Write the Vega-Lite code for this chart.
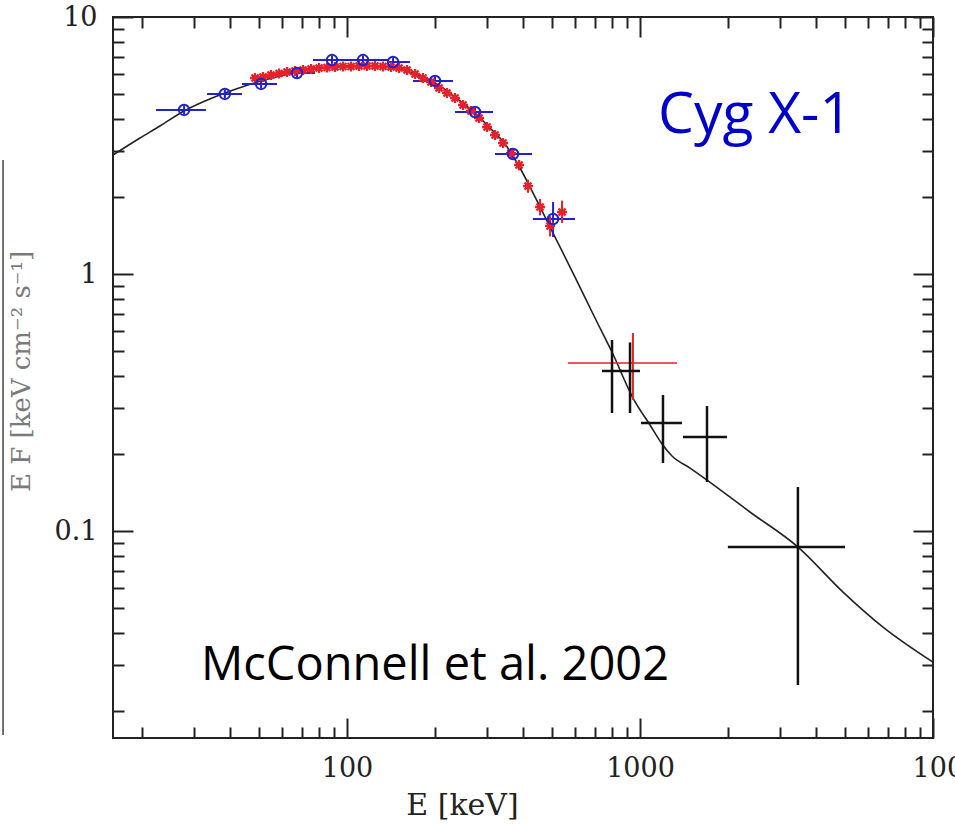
{
  "$schema": "https://vega.github.io/schema/vega-lite/v6.json",
  "width": 820,
  "height": 721,
  "autosize": {"type": "none"},
  "padding": {"left": 113, "top": 17, "right": 22, "bottom": 86},
  "background": "white",
  "config": {
    "view": {"stroke": "#222", "strokeWidth": 2},
    "axis": {
      "grid": false,
      "domain": false,
      "tickColor": "#222",
      "tickWidth": 2,
      "labelFont": "DejaVu Serif",
      "labelFontSize": 27,
      "labelColor": "#222",
      "titleFont": "DejaVu Serif",
      "titleFontSize": 30,
      "titleFontWeight": "normal",
      "titleColor": "#222"
    }
  },
  "datasets": {
    "model": [
      {"E": 15.9, "F": 2.904}, {"E": 19.66, "F": 3.382}, {"E": 23.0, "F": 3.766}, {"E": 27.78, "F": 4.308},
      {"E": 32.76, "F": 4.712}, {"E": 38.34, "F": 5.062}, {"E": 44.86, "F": 5.39}, {"E": 50.87, "F": 5.636},
      {"E": 59.07, "F": 5.894}, {"E": 69.12, "F": 6.136}, {"E": 80.9, "F": 6.333}, {"E": 94.65, "F": 6.446},
      {"E": 110.8, "F": 6.476}, {"E": 129.6, "F": 6.418}, {"E": 151.7, "F": 6.247}, {"E": 177.5, "F": 5.894},
      {"E": 207.7, "F": 5.39}, {"E": 243.0, "F": 4.712}, {"E": 273.5, "F": 4.231}, {"E": 307.6, "F": 3.7},
      {"E": 346.2, "F": 3.205}, {"E": 389.5, "F": 2.585}, {"E": 438.2, "F": 1.994}, {"E": 512.8, "F": 1.393},
      {"E": 600.1, "F": 0.9734}, {"E": 702.1, "F": 0.6743}, {"E": 802.6, "F": 0.4972}, {"E": 946.5, "F": 0.3293},
      {"E": 1082, "F": 0.2585}, {"E": 1189, "F": 0.2181}, {"E": 1286, "F": 0.1958}, {"E": 1482, "F": 0.1758},
      {"E": 1693, "F": 0.1579}, {"E": 2373, "F": 0.1186}, {"E": 3462, "F": 0.0866}, {"E": 4931, "F": 0.0579},
      {"E": 6751, "F": 0.0423}, {"E": 10000, "F": 0.0309}
    ],
    "blue": [
      {"E": 27.8, "F": 4.35, "Elo": 22.3, "Ehi": 33.0, "Flo": 4.18, "Fhi": 4.52},
      {"E": 38.3, "F": 5.02, "Elo": 33.3, "Ehi": 43.8, "Flo": 4.82, "Fhi": 5.22},
      {"E": 50.9, "F": 5.49, "Elo": 43.8, "Ehi": 57.7, "Flo": 5.27, "Fhi": 5.71},
      {"E": 67.5, "F": 6.05, "Elo": 57.7, "Ehi": 77.8, "Flo": 5.81, "Fhi": 6.29},
      {"E": 88.9, "F": 6.8, "Elo": 76.6, "Ehi": 102.4, "Flo": 6.53, "Fhi": 7.07},
      {"E": 113.4, "F": 6.8, "Elo": 102.4, "Ehi": 138.8, "Flo": 6.53, "Fhi": 7.07},
      {"E": 143.6, "F": 6.68, "Elo": 138.8, "Ehi": 164, "Flo": 6.41, "Fhi": 6.95},
      {"E": 199.7, "F": 5.64, "Elo": 168, "Ehi": 230, "Flo": 5.41, "Fhi": 5.87},
      {"E": 273.5, "F": 4.27, "Elo": 233.7, "Ehi": 315, "Flo": 4.1, "Fhi": 4.44},
      {"E": 368.7, "F": 2.93, "Elo": 320, "Ehi": 428, "Flo": 2.81, "Fhi": 3.05},
      {"E": 505, "F": 1.637, "Elo": 431, "Ehi": 600, "Flo": 1.393, "Fhi": 1.906}
    ],
    "red": [
      {"E": 48.53, "F": 5.789, "Flo": 5.62, "Fhi": 5.96}, {"E": 51.69, "F": 5.842, "Flo": 5.67, "Fhi": 6.02},
      {"E": 55.03, "F": 5.947, "Flo": 5.77, "Fhi": 6.13}, {"E": 58.61, "F": 6.028, "Flo": 5.85, "Fhi": 6.21},
      {"E": 62.41, "F": 6.109, "Flo": 5.93, "Fhi": 6.29}, {"E": 66.45, "F": 6.165, "Flo": 5.98, "Fhi": 6.35},
      {"E": 70.77, "F": 6.22, "Flo": 6.03, "Fhi": 6.41}, {"E": 75.39, "F": 6.276, "Flo": 6.09, "Fhi": 6.46},
      {"E": 80.27, "F": 6.333, "Flo": 6.14, "Fhi": 6.52}, {"E": 85.46, "F": 6.361, "Flo": 6.17, "Fhi": 6.55},
      {"E": 91.01, "F": 6.389, "Flo": 6.2, "Fhi": 6.58}, {"E": 96.92, "F": 6.418, "Flo": 6.23, "Fhi": 6.61},
      {"E": 103.2, "F": 6.418, "Flo": 6.23, "Fhi": 6.61}, {"E": 109.9, "F": 6.446, "Flo": 6.25, "Fhi": 6.64},
      {"E": 117.0, "F": 6.446, "Flo": 6.25, "Fhi": 6.64}, {"E": 124.6, "F": 6.446, "Flo": 6.25, "Fhi": 6.64},
      {"E": 132.7, "F": 6.418, "Flo": 6.23, "Fhi": 6.61}, {"E": 141.3, "F": 6.389, "Flo": 6.2, "Fhi": 6.58},
      {"E": 150.5, "F": 6.333, "Flo": 6.14, "Fhi": 6.52}, {"E": 160.3, "F": 6.22, "Flo": 6.03, "Fhi": 6.41},
      {"E": 170.7, "F": 6.0, "Flo": 5.82, "Fhi": 6.18}, {"E": 181.7, "F": 5.789, "Flo": 5.62, "Fhi": 5.96},
      {"E": 193.5, "F": 5.587, "Flo": 5.42, "Fhi": 5.75}, {"E": 206.1, "F": 5.293, "Flo": 5.13, "Fhi": 5.45},
      {"E": 219.5, "F": 5.062, "Flo": 4.91, "Fhi": 5.21}, {"E": 233.7, "F": 4.84, "Flo": 4.69, "Fhi": 4.99},
      {"E": 248.9, "F": 4.546, "Flo": 4.41, "Fhi": 4.68}, {"E": 265.0, "F": 4.308, "Flo": 4.18, "Fhi": 4.44},
      {"E": 282.2, "F": 4.046, "Flo": 3.92, "Fhi": 4.17}, {"E": 300.6, "F": 3.733, "Flo": 3.61, "Fhi": 3.86},
      {"E": 320.1, "F": 3.474, "Flo": 3.36, "Fhi": 3.59}, {"E": 340.8, "F": 3.234, "Flo": 3.12, "Fhi": 3.35},
      {"E": 362.9, "F": 2.956, "Flo": 2.84, "Fhi": 3.07}, {"E": 386.5, "F": 2.656, "Flo": 2.53, "Fhi": 2.78},
      {"E": 414.8, "F": 2.199, "Flo": 2.07, "Fhi": 2.33}, {"E": 455.9, "F": 1.823, "Flo": 1.69, "Fhi": 1.96},
      {"E": 493.2, "F": 1.538, "Flo": 1.4, "Fhi": 1.68}, {"E": 541.9, "F": 1.743, "Flo": 1.58, "Fhi": 1.93}
    ],
    "redbig": [
      {"E": 946, "F": 0.4504, "Elo": 568, "Ehi": 1337, "Flo": 0.3233, "Fhi": 0.5894}
    ],
    "black": [
      {"E": 802.6, "F": 0.4195, "Elo": 742, "Ehi": 868, "Flo": 0.2878, "Fhi": 0.5535},
      {"E": 924.6, "F": 0.4195, "Elo": 855, "Ehi": 1000, "Flo": 0.2878, "Fhi": 0.5417},
      {"E": 1198, "F": 0.2632, "Elo": 1008, "Ehi": 1391, "Flo": 0.1839, "Fhi": 0.3381},
      {"E": 1693, "F": 0.2321, "Elo": 1402, "Ehi": 1981, "Flo": 0.1551, "Fhi": 0.3064},
      {"E": 3459, "F": 0.0866, "Elo": 1995, "Ehi": 5008, "Flo": 0.02518, "Fhi": 0.1483}
    ],
    "edge": [
      {"E": 6.7, "Flo": 0.01608, "Fhi": 2.777}
    ],
    "labels": [
      {"E": 2469, "F": 3.537, "text": "Cyg X-1", "kind": "source"},
      {"E": 199.7, "F": 0.02631, "text": "McConnell et al. 2002", "kind": "ref"}
    ]
  },
  "layer": [
    {
      "data": {"name": "model"},
      "mark": {"type": "line", "color": "#222", "strokeWidth": 1.6, "interpolate": "monotone"},
      "encoding": {
        "x": {
          "field": "E", "type": "quantitative",
          "scale": {"type": "log", "domain": [15.9, 10000], "nice": false},
          "axis": {
            "orient": "bottom",
            "values": [20, 30, 40, 50, 60, 70, 80, 90, 100, 200, 300, 400, 500, 600, 700, 800, 900, 1000, 2000, 3000, 4000, 5000, 6000, 7000, 8000, 9000, 10000],
            "format": "~g",
            "labelExpr": "abs(log(datum.value)/LN10 - round(log(datum.value)/LN10)) < 0.001 ? datum.label : ''",
            "tickSize": {"condition": {"test": "abs(log(datum.value)/LN10 - round(log(datum.value)/LN10)) < 0.001", "value": -20}, "value": -11},
            "labelPadding": 37,
            "labelOffset": {"condition": {"test": "datum.value > 9999", "value": 22}, "value": 0},
            "labelFlush": false,
            "labelOverlap": false,
            "title": "E [keV]",
            "titleX": 349,
            "titleY": 67,
            "titleAlign": "center",
            "titleBaseline": "middle"
          }
        },
        "y": {
          "field": "F", "type": "quantitative",
          "scale": {"type": "log", "domain": [0.01566, 10], "nice": false},
          "axis": {
            "orient": "left",
            "values": [0.02, 0.03, 0.04, 0.05, 0.06, 0.07, 0.08, 0.09, 0.1, 0.2, 0.3, 0.4, 0.5, 0.6, 0.7, 0.8, 0.9, 1, 2, 3, 4, 5, 6, 7, 8, 9, 10],
            "format": "~g",
            "labelExpr": "abs(log(datum.value)/LN10 - round(log(datum.value)/LN10)) < 0.001 ? datum.label : ''",
            "tickSize": {"condition": {"test": "abs(log(datum.value)/LN10 - round(log(datum.value)/LN10)) < 0.001", "value": -20}, "value": -11},
            "labelPadding": 36,
            "labelFlush": false,
            "labelOverlap": false,
            "title": "E F  [keV cm⁻² s⁻¹]",
            "titleFontSize": 26,
            "titleColor": "#7a7a7a",
            "titleX": -92,
            "titleY": 354,
            "titleAngle": -90,
            "titleAlign": "center",
            "titleBaseline": "middle"
          }
        }
      }
    },
    {
      "data": {"name": "blue"},
      "mark": {"type": "rule", "color": "#2222cc", "strokeWidth": 2},
      "encoding": {
        "x": {
          "field": "Elo", "type": "quantitative",
          "scale": {"type": "log", "domain": [15.9, 10000], "nice": false},
          "axis": {
            "orient": "top",
            "values": [20, 30, 40, 50, 60, 70, 80, 90, 100, 200, 300, 400, 500, 600, 700, 800, 900, 1000, 2000, 3000, 4000, 5000, 6000, 7000, 8000, 9000, 10000],
            "labels": false,
            "tickSize": {"condition": {"test": "abs(log(datum.value)/LN10 - round(log(datum.value)/LN10)) < 0.001", "value": -20}, "value": -11},
            "title": null
          }
        },
        "x2": {"field": "Ehi"},
        "y": {
          "field": "F", "type": "quantitative",
          "scale": {"type": "log", "domain": [0.01566, 10], "nice": false},
          "axis": {
            "orient": "right",
            "values": [0.02, 0.03, 0.04, 0.05, 0.06, 0.07, 0.08, 0.09, 0.1, 0.2, 0.3, 0.4, 0.5, 0.6, 0.7, 0.8, 0.9, 1, 2, 3, 4, 5, 6, 7, 8, 9, 10],
            "labels": false,
            "tickSize": {"condition": {"test": "abs(log(datum.value)/LN10 - round(log(datum.value)/LN10)) < 0.001", "value": -20}, "value": -11},
            "title": null
          }
        }
      }
    },
    {
      "data": {"name": "blue"},
      "mark": {"type": "rule", "color": "#2222cc", "strokeWidth": 2},
      "encoding": {
        "x": {"field": "E", "type": "quantitative", "scale": {"type": "log", "domain": [15.9, 10000], "nice": false}, "axis": null},
        "y": {"field": "Flo", "type": "quantitative", "scale": {"type": "log", "domain": [0.01566, 10], "nice": false}, "axis": null},
        "y2": {"field": "Fhi"}
      }
    },
    {
      "data": {"name": "red"},
      "mark": {"type": "rule", "color": "#e8202a", "strokeWidth": 2},
      "encoding": {
        "x": {"field": "E", "type": "quantitative", "scale": {"type": "log", "domain": [15.9, 10000], "nice": false}, "axis": null},
        "y": {"field": "Flo", "type": "quantitative", "scale": {"type": "log", "domain": [0.01566, 10], "nice": false}, "axis": null},
        "y2": {"field": "Fhi"}
      }
    },
    {
      "data": {"name": "red"},
      "mark": {"type": "point", "shape": "M-1,0L1,0M0,-1L0,1M-0.7,-0.7L0.7,0.7M-0.7,0.7L0.7,-0.7", "filled": false, "stroke": "#e8202a", "strokeWidth": 2.3, "size": 100, "opacity": 1},
      "encoding": {
        "x": {"field": "E", "type": "quantitative", "scale": {"type": "log", "domain": [15.9, 10000], "nice": false}, "axis": null},
        "y": {"field": "F", "type": "quantitative", "scale": {"type": "log", "domain": [0.01566, 10], "nice": false}, "axis": null}
      }
    },
    {
      "data": {"name": "blue"},
      "mark": {"type": "point", "shape": "circle", "filled": false, "stroke": "#2222cc", "strokeWidth": 2, "size": 110, "opacity": 1},
      "encoding": {
        "x": {"field": "E", "type": "quantitative", "scale": {"type": "log", "domain": [15.9, 10000], "nice": false}, "axis": null},
        "y": {"field": "F", "type": "quantitative", "scale": {"type": "log", "domain": [0.01566, 10], "nice": false}, "axis": null}
      }
    },
    {
      "data": {"name": "redbig"},
      "mark": {"type": "rule", "color": "#e8202a", "strokeWidth": 1.5},
      "encoding": {
        "x": {"field": "Elo", "type": "quantitative", "scale": {"type": "log", "domain": [15.9, 10000], "nice": false}, "axis": null},
        "x2": {"field": "Ehi"},
        "y": {"field": "F", "type": "quantitative", "scale": {"type": "log", "domain": [0.01566, 10], "nice": false}, "axis": null}
      }
    },
    {
      "data": {"name": "redbig"},
      "mark": {"type": "rule", "color": "#e8202a", "strokeWidth": 2},
      "encoding": {
        "x": {"field": "E", "type": "quantitative", "scale": {"type": "log", "domain": [15.9, 10000], "nice": false}, "axis": null},
        "y": {"field": "Flo", "type": "quantitative", "scale": {"type": "log", "domain": [0.01566, 10], "nice": false}, "axis": null},
        "y2": {"field": "Fhi"}
      }
    },
    {
      "data": {"name": "black"},
      "mark": {"type": "rule", "color": "#111", "strokeWidth": 2.5},
      "encoding": {
        "x": {"field": "Elo", "type": "quantitative", "scale": {"type": "log", "domain": [15.9, 10000], "nice": false}, "axis": null},
        "x2": {"field": "Ehi"},
        "y": {"field": "F", "type": "quantitative", "scale": {"type": "log", "domain": [0.01566, 10], "nice": false}, "axis": null}
      }
    },
    {
      "data": {"name": "black"},
      "mark": {"type": "rule", "color": "#111", "strokeWidth": 2.5},
      "encoding": {
        "x": {"field": "E", "type": "quantitative", "scale": {"type": "log", "domain": [15.9, 10000], "nice": false}, "axis": null},
        "y": {"field": "Flo", "type": "quantitative", "scale": {"type": "log", "domain": [0.01566, 10], "nice": false}, "axis": null},
        "y2": {"field": "Fhi"}
      }
    },
    {
      "data": {"name": "edge"},
      "mark": {"type": "rule", "color": "#444", "strokeWidth": 1.5, "clip": false},
      "encoding": {
        "x": {"field": "E", "type": "quantitative", "scale": {"type": "log", "domain": [15.9, 10000], "nice": false}, "axis": null},
        "y": {"field": "Flo", "type": "quantitative", "scale": {"type": "log", "domain": [0.01566, 10], "nice": false}, "axis": null},
        "y2": {"field": "Fhi"}
      }
    },
    {
      "data": {"name": "labels"},
      "mark": {"type": "text", "font": "Open Sans", "align": "center", "baseline": "alphabetic"},
      "encoding": {
        "x": {"field": "E", "type": "quantitative", "scale": {"type": "log", "domain": [15.9, 10000], "nice": false}, "axis": null},
        "y": {"field": "F", "type": "quantitative", "scale": {"type": "log", "domain": [0.01566, 10], "nice": false}, "axis": null},
        "text": {"field": "text"},
        "color": {"field": "kind", "type": "nominal", "scale": {"domain": ["source", "ref"], "range": ["#0000cc", "#000000"]}, "legend": null},
        "size": {"field": "kind", "type": "nominal", "scale": {"domain": ["source", "ref"], "range": [57, 47]}, "legend": null}
      }
    }
  ],
  "resolve": {"axis": {"x": "independent", "y": "independent"}}
}
